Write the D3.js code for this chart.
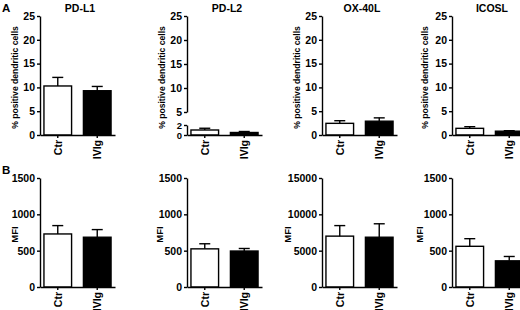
<!DOCTYPE html>
<html>
<head>
<meta charset="utf-8">
<script src="https://cdn.jsdelivr.net/npm/d3@7"></script>
<style>
  body { margin: 0; background: #fff; }
  svg text { font-family: "Liberation Sans", Arial, sans-serif; font-weight: bold; fill: #000; }
  .axis path, .axis line { stroke: #000; stroke-width: 1.4; }
  .axis text { font-size: 10.5px; }
</style>
</head>
<body>
<div id="chart"></div>
<script>
const markers = ["PD-L1", "PD-L2", "OX-40L", "ICOSL"];
const groups = ["Ctr", "IVIg"];

// row A: % positive dendritic cells (mean, SEM)
const pctMean = [[10.3, 9.3], [1.0, 0.5], [2.45, 2.9], [1.4, 0.8]];
const pctSem = [[1.8, 0.9], [0.35, 0.2], [0.55, 0.7], [0.35, 0.1]];
const pctTicks = [0, 5, 10, 15, 20, 25];

// row B: MFI (mean, SEM)
const mfiMean = [[730, 685], [525, 495], [7000, 6850], [560, 360]];
const mfiSem = [[115, 105], [70, 35], [1450, 1850], [105, 60]];
const mfiMax = [1500, 1500, 15000, 1500];
const mfiTicks = [[0, 500, 1000, 1500], [0, 500, 1000, 1500], [0, 5000, 10000, 15000], [0, 500, 1000, 1500]];

// PD-L2 broken axis
const brokenLow = [0, 2];
const brokenHigh = [5, 10, 15, 20, 25];

const width = 520, height = 310;
const axisX = [40, 187, 322, 452];
const titleX = [15, 162, 297, 425];
const mfiTitleX = [15, 160, 288, 420];
const rowA = { y0: 135, y1: 16 };
const rowB = { y0: 287, y1: 178 };
const fmt = d3.format("d");

const svg = d3.select("#chart").append("svg").attr("width", width).attr("height", height);

svg.append("text").attr("x", 2).attr("y", 12).style("font-size", "11.5px").text("A");
svg.append("text").attr("x", 2).attr("y", 174).style("font-size", "11.5px").text("B");

function drawPanel(i, mean, sem, yScale, row, yTitle, yTitleX, ticks, yScaleUpper) {
  const g = svg.append("g");
  const x = d3.scaleBand().domain(groups).range([axisX[i], axisX[i] + 75]).paddingInner(0.3).paddingOuter(0.1);

  // bars
  g.selectAll("rect.bar")
    .data(groups)
    .join("rect")
    .attr("x", d => x(d))
    .attr("width", x.bandwidth())
    .attr("y", (d, j) => yScale(mean[j]))
    .attr("height", (d, j) => row.y0 - yScale(mean[j]))
    .attr("fill", (d, j) => j === 0 ? "#fff" : "#000")
    .attr("stroke", "#000")
    .attr("stroke-width", 1.4);

  // upper error bars
  const err = g.selectAll("g.err").data(groups).join("g");
  err.append("line")
    .attr("x1", d => x(d) + x.bandwidth() / 2)
    .attr("x2", d => x(d) + x.bandwidth() / 2)
    .attr("y1", (d, j) => yScale(mean[j]))
    .attr("y2", (d, j) => yScale(mean[j] + sem[j]))
    .attr("stroke", "#000")
    .attr("stroke-width", 1.4);
  err.append("line")
    .attr("x1", d => x(d) + x.bandwidth() / 2 - 5.5)
    .attr("x2", d => x(d) + x.bandwidth() / 2 + 5.5)
    .attr("y1", (d, j) => yScale(mean[j] + sem[j]))
    .attr("y2", (d, j) => yScale(mean[j] + sem[j]))
    .attr("stroke", "#000")
    .attr("stroke-width", 1.4);

  // x axis
  const xa = g.append("g").attr("class", "axis")
    .attr("transform", `translate(0,${row.y0})`)
    .call(d3.axisBottom(x).tickSize(3).tickSizeOuter(0));
  xa.selectAll("text")
    .attr("transform", "rotate(-90)")
    .attr("text-anchor", "end")
    .attr("x", -5)
    .attr("y", 0)
    .attr("dy", "0.36em")
    .style("font-size", "10.5px");

  // y axis
  const ya = g.append("g").attr("class", "axis")
    .attr("transform", `translate(${axisX[i]},0)`)
    .call(d3.axisLeft(yScale).tickValues(ticks).tickFormat(fmt).tickSize(3).tickSizeOuter(0).tickPadding(2));
  if (yScaleUpper) {
    ya.selectAll("text").style("font-size", "9.5px");
    g.append("g").attr("class", "axis")
      .attr("transform", `translate(${axisX[i]},0)`)
      .call(d3.axisLeft(yScaleUpper).tickValues(brokenHigh).tickFormat(fmt).tickSize(3).tickSizeOuter(0).tickPadding(2));
  }

  g.append("text")
    .attr("transform", `translate(${yTitleX},${(row.y0 + row.y1) / 2 + 2}) rotate(-90)`)
    .attr("text-anchor", "middle")
    .attr("dy", "0.35em")
    .style("font-size", yTitle === "MFI" ? "9.5px" : "8.6px")
    .text(yTitle);
}

markers.forEach((m, i) => {
  // row A
  if (m === "PD-L2") {
    const low = d3.scaleLinear().domain([0, 2]).range([rowA.y0, 125]);
    const high = d3.scaleLinear().domain([5, 25]).range([112, rowA.y1]);
    drawPanel(i, pctMean[i], pctSem[i], low, rowA, "% positive dendritic cells", titleX[i], brokenLow, high);
  } else {
    const y = d3.scaleLinear().domain([0, 25]).range([rowA.y0, rowA.y1]);
    drawPanel(i, pctMean[i], pctSem[i], y, rowA, "% positive dendritic cells", titleX[i], pctTicks);
  }
  svg.append("text")
    .attr("x", axisX[i] + 40)
    .attr("y", 12)
    .attr("text-anchor", "middle")
    .style("font-size", "10.5px")
    .text(m);

  // row B
  const yb = d3.scaleLinear().domain([0, mfiMax[i]]).range([rowB.y0, rowB.y1]);
  drawPanel(i, mfiMean[i], mfiSem[i], yb, rowB, "MFI", mfiTitleX[i], mfiTicks[i]);
});
</script>
</body>
</html>
